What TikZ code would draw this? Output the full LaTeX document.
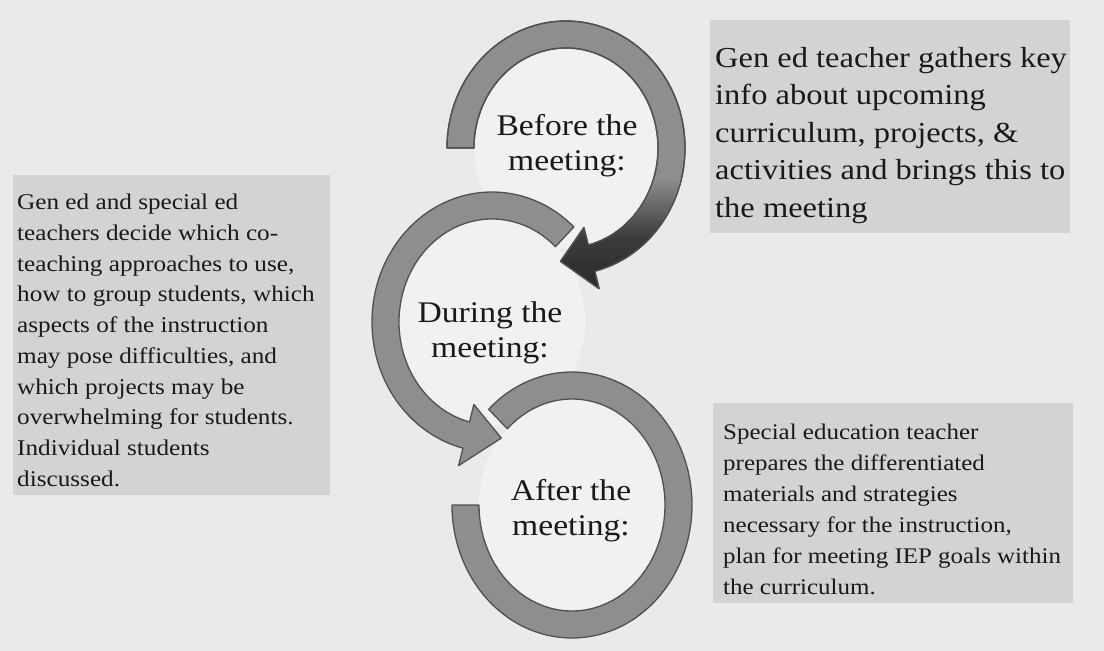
\documentclass[tikz,border=0pt]{standalone}
\usepackage{fontspec}
\setmainfont{Liberation Serif}[FakeStretch=1.12]
\definecolor{bgc}{HTML}{EAEAEA}
\definecolor{boxc}{HTML}{D3D3D3}
\definecolor{ringc}{HTML}{8E8E8E}
\definecolor{ringedge}{HTML}{505050}
\definecolor{ringdark}{HTML}{262626}
\begin{document}
\begin{tikzpicture}[x=1pt,y=1pt,
  ring/.style={fill=ringc,draw=ringedge,line width=1.3pt,line join=round},
  descbox/.style={fill=boxc,draw=none},
  desctext/.style={anchor=north west,inner sep=0pt,align=left,text=black!90},
  stagelabel/.style={inner sep=0pt,align=center,text=black!90,
    font=\fontsize{30}{35}\selectfont}]
\fill[bgc] (0,0) rectangle (1104,-651);
\useasboundingbox (0,0) rectangle (1104,-651);
% description boxes
\fill[descbox] (710,-20) rectangle (1070,-233);
\fill[descbox] (13,-175) rectangle (330,-495);
\fill[descbox] (713,-403) rectangle (1073,-603);
% slightly lighter interiors
\fill[white!35!bgc] (566,-148) ellipse [x radius=92, y radius=100];
\fill[white!35!bgc] (492,-322) ellipse [x radius=93, y radius=103];
\fill[white!35!bgc] (572,-505) ellipse [x radius=93, y radius=106];
% ring 3 (after)
\begin{scope}[shift={(572,-505)}]
\path[ring] (134:120 and 133) arc[start angle=134,end angle=-180,x radius=120,y radius=133]
  -- (180:93 and 106) arc[start angle=-180,end angle=134,x radius=93,y radius=106] -- cycle;
\end{scope}
% ring 2 (during)
\begin{scope}[shift={(492,-322)}]
\path[ring] (47:120 and 130) arc[start angle=47,end angle=256,x radius=120,y radius=130]
  -- (256:138 and 148) -- (275:106.5 and 116.5) -- (256:75 and 85)
  -- (256:93 and 103) arc[start angle=256,end angle=47,x radius=93,y radius=103] -- cycle;
\end{scope}
% ring 1 (before)
\begin{scope}[shift={(566,-148)}]
\path[ring] (180:119 and 127) arc[start angle=180,end angle=-76,x radius=119,y radius=127]
  -- (-76:137 and 145) -- (-93:105.5 and 113.5) -- (-76:74 and 82)
  -- (-76:92 and 100) arc[start angle=-76,end angle=180,x radius=92,y radius=100] -- cycle;
\begin{scope}
\clip (180:119 and 127) arc[start angle=180,end angle=-76,x radius=119,y radius=127]
  -- (-76:137 and 145) -- (-93:105.5 and 113.5) -- (-76:74 and 82)
  -- (-76:92 and 100) arc[start angle=-76,end angle=180,x radius=92,y radius=100] -- cycle;
\shade[top color=ringc,bottom color=ringdark,middle color=ringdark!80!ringc] (-30,-30) rectangle (160,-150);
\end{scope}
\path[draw=ringedge,line width=1.3pt,line join=round] (180:119 and 127) arc[start angle=180,end angle=-76,x radius=119,y radius=127]
  -- (-76:137 and 145) -- (-93:105.5 and 113.5) -- (-76:74 and 82)
  -- (-76:92 and 100) arc[start angle=-76,end angle=180,x radius=92,y radius=100] -- cycle;
\end{scope}
% stage labels
\node[stagelabel] (before) at (567,-146) {Before the\\meeting:};
\node[stagelabel] (during) at (490,-333) {During the\\meeting:};
\node[stagelabel] (after) at (571,-511) {After the\\meeting:};
% descriptions
\node[desctext,font=\fontsize{29}{37.5}\selectfont] (beforetxt) at (715,-47)
  {Gen ed teacher gathers key\\info about upcoming\\curriculum, projects, \&\\activities and brings this to\\the meeting};
\node[desctext,font=\fontsize{22.5}{30.7}\selectfont] (duringtxt) at (17,-194)
  {Gen ed and special ed\\teachers decide which co-\\teaching approaches to use,\\how to group students, which\\aspects of the instruction\\may pose difficulties, and\\which projects may be\\overwhelming for students.\\Individual students\\discussed.};
\node[desctext,font=\fontsize{22.3}{31}\selectfont] (aftertxt) at (723,-424)
  {Special education teacher\\prepares the differentiated\\materials and strategies\\necessary for the instruction,\\plan for meeting IEP goals within\\the curriculum.};
\end{tikzpicture}
\end{document}
